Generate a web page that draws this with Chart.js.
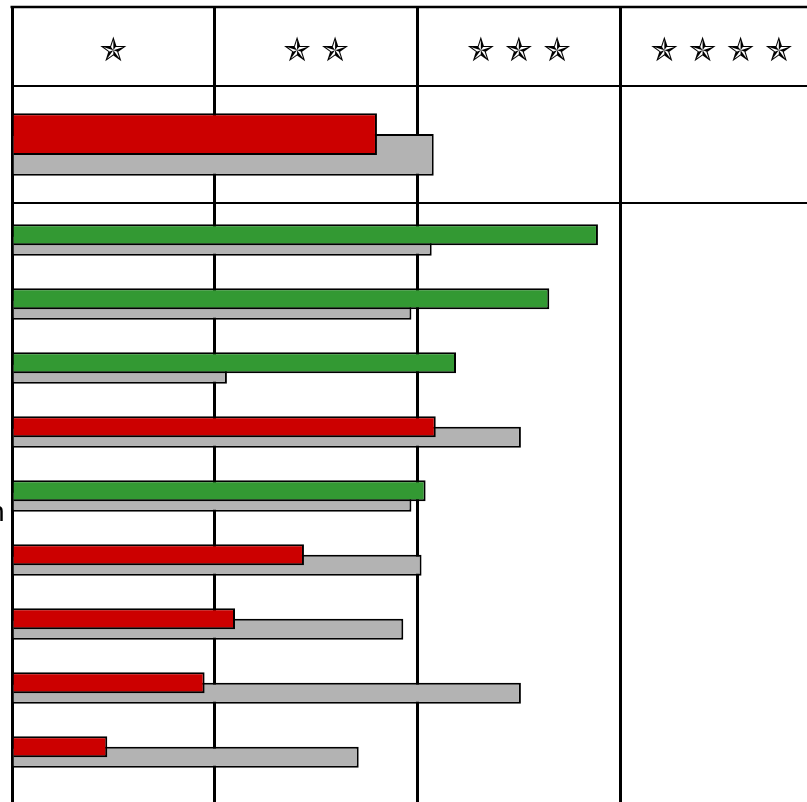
<!DOCTYPE html>
<html>
<head>
<meta charset="utf-8">
<script src="https://cdn.jsdelivr.net/npm/chart.js@4/dist/chart.umd.min.js"></script>
<style>
html, body { margin: 0; padding: 0; overflow: hidden; background: #fff; width: 807px; height: 802px; }
#top { position: absolute; left: 0; top: 0; width: 830px; height: 208px; }
#bottom { position: absolute; left: 0; top: 208px; width: 830px; height: 594px; }
#cut { position: absolute; left: -11px; top: 498px; font: 28px "Liberation Sans", Arial, sans-serif; line-height: 28px; color: #000; }
</style>
</head>
<body>
<div id="top"><canvas id="topChart"></canvas></div>
<div id="bottom"><canvas id="bottomChart"></canvas></div>
<span id="cut">n</span>
<script>
// header labels (one column per star level)
var stars = ["✯", "✯ ✯", "✯ ✯ ✯", "✯ ✯ ✯ ✯"]

// summary row
var topRow = ["Total"]
var topScore = [1.80]
var topRef = [2.08]

// detail rows
var rows = ["Item 1", "Item 2", "Item 3", "Item 4", "Item 5", "Item 6", "Item 7", "Item 8", "Item 9"]
var scores = [2.89, 2.65, 2.19, 2.09, 2.04, 1.44, 1.10, 0.95, 0.47]
var refs = [2.07, 1.97, 1.06, 2.51, 1.97, 2.02, 1.93, 2.51, 1.71]

var RED = "#cc0000", GREEN = "#339933", GRAY = "#b3b3b3"

Chart.defaults.font.family = "DejaVu Sans"
Chart.defaults.animation = false

function barSets(score, ref, cp) {
  var cols = score.map((v, i) => v >= ref[i] ? GREEN : RED)
  return [
    {data: score, backgroundColor: cols, borderColor: "#000", borderWidth: 2, barPercentage: 2, categoryPercentage: cp},
    {data: ref, backgroundColor: GRAY, borderColor: "#000", borderWidth: 2, barPercentage: 2, categoryPercentage: cp}
  ]
}

function xAxis(tick, border) {
  return {
    type: "linear", min: 0, max: 4,
    ticks: {stepSize: 1, display: false},
    grid: {color: "#000", lineWidth: 3, tickLength: tick},
    border: {display: border, color: "#000", width: 2}
  }
}

var yAxis = {
  ticks: {display: false},
  grid: {display: false, drawTicks: false},
  border: {display: true, color: "#000", width: 3}
}

// closes the header box on top
var headerTop = {
  id: "headerTop",
  afterDraw(chart) {
    var s = chart.scales.x2, ctx = chart.ctx
    ctx.save()
    ctx.strokeStyle = "#000"
    ctx.lineWidth = 2.5
    ctx.beginPath()
    ctx.moveTo(s.left - 1.5, s.top)
    ctx.lineTo(s.right, s.top)
    ctx.stroke()
    ctx.restore()
  }
}

new Chart("topChart", {
  type: "bar",
  data: {labels: topRow, datasets: barSets(topScore, topRef, 0.355)},
  options: {
    indexAxis: "y",
    responsive: true,
    maintainAspectRatio: false,
    layout: {padding: {top: 7, left: 12, right: 7, bottom: 0}},
    plugins: {legend: {display: false}, tooltip: {enabled: false}},
    scales: {
      x: xAxis(5, true),
      x2: {
        type: "category", labels: stars, position: "top", offset: true,
        grid: {offset: true, drawOnChartArea: false, color: "#000", lineWidth: 3, tickLength: 79},
        border: {display: true, color: "#000", width: 2},
        ticks: {color: "#000", font: {size: 33}, padding: -65, maxRotation: 0, autoSkip: false},
        afterFit: s => { s.height = 79 }
      },
      y: yAxis
    }
  },
  plugins: [headerTop]
})

new Chart("bottomChart", {
  type: "bar",
  data: {labels: rows, datasets: barSets(scores, refs, 21 / 64)},
  options: {
    indexAxis: "y",
    responsive: true,
    maintainAspectRatio: false,
    layout: {padding: {top: 0, left: 12, right: 7, bottom: 0}},
    plugins: {legend: {display: false}, tooltip: {enabled: false}},
    scales: {
      x: xAxis(18, false),
      y: yAxis
    }
  }
})
</script>
</body>
</html>
